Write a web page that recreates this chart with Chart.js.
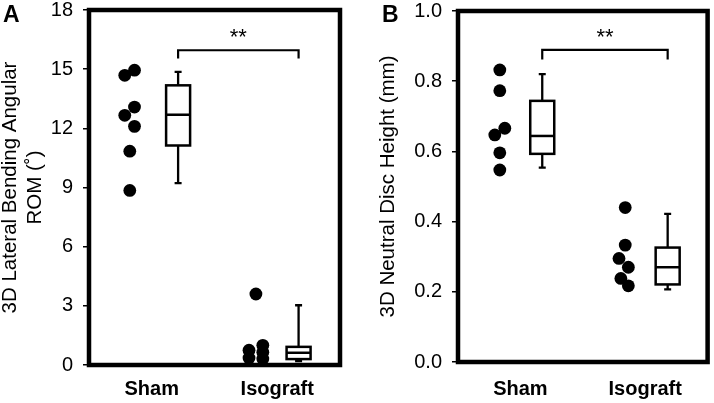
<!DOCTYPE html>
<html>
<head>
<meta charset="utf-8">
<script src="https://cdn.jsdelivr.net/npm/chart.js@4.4.1/dist/chart.umd.min.js"></script>
<style>
  html, body { margin: 0; padding: 0; background: #fff; }
  #wrap { position: relative; width: 714px; height: 403px; }
  canvas { position: absolute; top: 0; }
  #chartA { left: 0; }
  #chartB { left: 357px; }
</style>
</head>
<body>
<div id="wrap">
  <canvas id="chartA" width="357" height="403"></canvas>
  <canvas id="chartB" width="357" height="403"></canvas>
</div>
<script>
const groups = ["Sham", "Isograft"];
const groupPos = [1, 3];

// Panel A - 3D lateral bending angular ROM (deg)
const romTicks = [0, 3, 6, 9, 12, 15, 18];
const romSham = [14.95, 14.69, 13.08, 12.66, 12.1, 10.84, 8.85];
const romIso = [3.6, 0.75, 0.35, 1.0, 0.65, 0.3];
// box stats: min, q1, median, q3, max
const romBoxSham = [9.22, 11.13, 12.69, 14.18, 14.86];
const romBoxIso = [0.2, 0.3, 0.62, 0.92, 3.03];

// Panel B - 3D neutral disc height (mm)
const heightTicks = [0, 0.2, 0.4, 0.6, 0.8, 1.0];
const heightSham = [0.832, 0.773, 0.666, 0.647, 0.596, 0.547];
const heightIso = [0.44, 0.333, 0.295, 0.27, 0.238, 0.217];
const heightBoxSham = [0.554, 0.593, 0.644, 0.744, 0.82];
const heightBoxIso = [0.207, 0.221, 0.27, 0.326, 0.422];

// horizontal spread of the dots (offset from group centre, x units)
const romShamJit = [-0.275, -0.43, -0.275, -0.43, -0.275, -0.35, -0.35];
const romIsoJit = [-0.34, -0.45, -0.45, -0.23, -0.23, -0.23];
const heightShamJit = [-0.33, -0.33, -0.25, -0.41, -0.33, -0.33];
const heightIsoJit = [-0.32, -0.32, -0.42, -0.27, -0.39, -0.27];

const FONT = "'Liberation Sans', Arial, sans-serif";

// draws frame, box plots, significance bracket and panel letter
const boxPlugin = {
  id: "boxes",
  afterDatasetsDraw(chart, args, opts) {
    const { ctx, chartArea: area, scales: { x, y } } = chart;
    ctx.save();
    ctx.strokeStyle = "#000";
    ctx.lineCap = "butt";

    // frame
    ctx.lineWidth = 4.5;
    ctx.lineJoin = "miter";
    ctx.strokeRect(area.left, area.top, area.right - area.left, area.bottom - area.top);

    // boxes
    opts.boxes.forEach((b, i) => {
      const cx = x.getPixelForValue(groupPos[i] + opts.boxOffset[i]);
      const [mn, q1, md, q3, mx] = b.map((v) => y.getPixelForValue(v));
      const hw = 12, cap = 3.5;
      ctx.lineWidth = 2.3;
      ctx.beginPath();
      ctx.moveTo(cx, q3); ctx.lineTo(cx, mx);
      ctx.moveTo(cx - cap, mx); ctx.lineTo(cx + cap, mx);
      ctx.moveTo(cx, q1); ctx.lineTo(cx, mn);
      ctx.moveTo(cx - cap, mn); ctx.lineTo(cx + cap, mn);
      ctx.stroke();
      ctx.fillStyle = "#fff";
      ctx.fillRect(cx - hw, q3, hw * 2, q1 - q3);
      ctx.lineWidth = 2.5;
      ctx.strokeRect(cx - hw, q3, hw * 2, q1 - q3);
      ctx.beginPath();
      ctx.moveTo(cx - hw, md); ctx.lineTo(cx + hw, md);
      ctx.stroke();
    });

    // significance bracket
    const x1 = x.getPixelForValue(groupPos[0] + opts.boxOffset[0]);
    const x2 = x.getPixelForValue(groupPos[1] + opts.boxOffset[1]);
    const by = y.getPixelForValue(opts.sig.y);
    const bd = y.getPixelForValue(opts.sig.drop);
    ctx.lineWidth = 2.2;
    ctx.beginPath();
    ctx.moveTo(x1, bd); ctx.lineTo(x1, by); ctx.lineTo(x2, by); ctx.lineTo(x2, bd);
    ctx.stroke();
    ctx.fillStyle = "#000";
    ctx.font = "22px " + FONT;
    ctx.textAlign = "center";
    ctx.textBaseline = "alphabetic";
    ctx.fillText("**", (x1 + x2) / 2, y.getPixelForValue(opts.sig.star) + 12.5);

    // panel letter
    ctx.font = "bold 23px " + FONT;
    ctx.textAlign = "left";
    ctx.fillText(opts.letter, opts.letterX, 22);
    ctx.restore();
  },
};

const toPoints = (vals, jit, g) => vals.map((v, i) => ({ x: groupPos[g] + jit[i], y: v }));

const makePanel = (id, cfg) => {
  const ctx = document.getElementById(id).getContext("2d");
  return new Chart(ctx, {
    type: "scatter",
    data: {
      datasets: [
        { data: toPoints(cfg.sham, cfg.shamJit, 0) },
        { data: toPoints(cfg.iso, cfg.isoJit, 1) },
      ].map((d) => ({ ...d, pointRadius: 6.4, pointBackgroundColor: "#000", pointBorderWidth: 0 })),
    },
    options: {
      responsive: false,
      animation: false,
      devicePixelRatio: 1,
      layout: { padding: cfg.padding },
      plugins: {
        legend: { display: false },
        tooltip: { enabled: false },
        boxes: { boxes: cfg.boxes, boxOffset: cfg.boxOffset, sig: cfg.sig, letter: cfg.letter, letterX: cfg.letterX },
      },
      scales: {
        x: {
          type: "linear",
          min: 0,
          max: 4,
          afterBuildTicks: (s) => { s.ticks = groupPos.map((v) => ({ value: v })); },
          afterFit: (s) => { s.height = cfg.xHeight; s.paddingLeft = 0; s.paddingRight = 0; },
          ticks: {
            callback: (v, i) => groups[i],
            font: { family: FONT, size: 20, weight: "bold" },
            color: "#000",
            padding: cfg.xPad,
            maxRotation: 0,
            autoSkip: false,
          },
          grid: { display: false, drawTicks: false },
          border: { display: false },
        },
        y: {
          min: 0,
          max: cfg.ticks[cfg.ticks.length - 1],
          afterBuildTicks: (s) => { s.ticks = cfg.ticks.map((v) => ({ value: v })); },
          afterFit: (s) => { s.width = cfg.yWidth; s.paddingTop = 0; s.paddingBottom = 0; },
          ticks: {
            callback: cfg.fmt,
            font: { family: FONT, size: 20 },
            color: "#000",
            padding: 10,
            autoSkip: false,
          },
          grid: { drawOnChartArea: false, drawTicks: true, tickLength: 6, color: "#000", lineWidth: 1.5 },
          border: { display: false },
          title: {
            display: true,
            text: cfg.title,
            font: { family: FONT, size: 20.5 },
            color: "#000",
            padding: { top: cfg.titlePad, bottom: 0 },
          },
        },
      },
    },
    plugins: [boxPlugin],
  });
};

makePanel("chartA", {
  sham: romSham, iso: romIso, shamJit: romShamJit, isoJit: romIsoJit,
  boxes: [romBoxSham, romBoxIso], boxOffset: [0.42, 0.34],
  sig: { y: 15.96, drop: 15.54, star: 16.9 },
  ticks: romTicks, fmt: (v) => v,
  title: ["3D Lateral Bending Angular", "ROM (˚)"], titlePad: -2,
  padding: { left: 0, right: 17, top: 10, bottom: 0 },
  yWidth: 89, xHeight: 38, xPad: 12, letter: "A", letterX: 3,
});

makePanel("chartB", {
  sham: heightSham, iso: heightIso, shamJit: heightShamJit, isoJit: heightIsoJit,
  boxes: [heightBoxSham, heightBoxIso], boxOffset: [0.35, 0.36],
  sig: { y: 0.889, drop: 0.862, star: 0.941 },
  ticks: heightTicks, fmt: (v) => v.toFixed(1),
  title: "3D Neutral Disc Height (mm)", titlePad: 19.5,
  padding: { left: 0, right: 5, top: 11, bottom: 0 },
  yWidth: 101, xHeight: 41, xPad: 15, letter: "B", letterX: 25,
});
</script>
</body>
</html>
